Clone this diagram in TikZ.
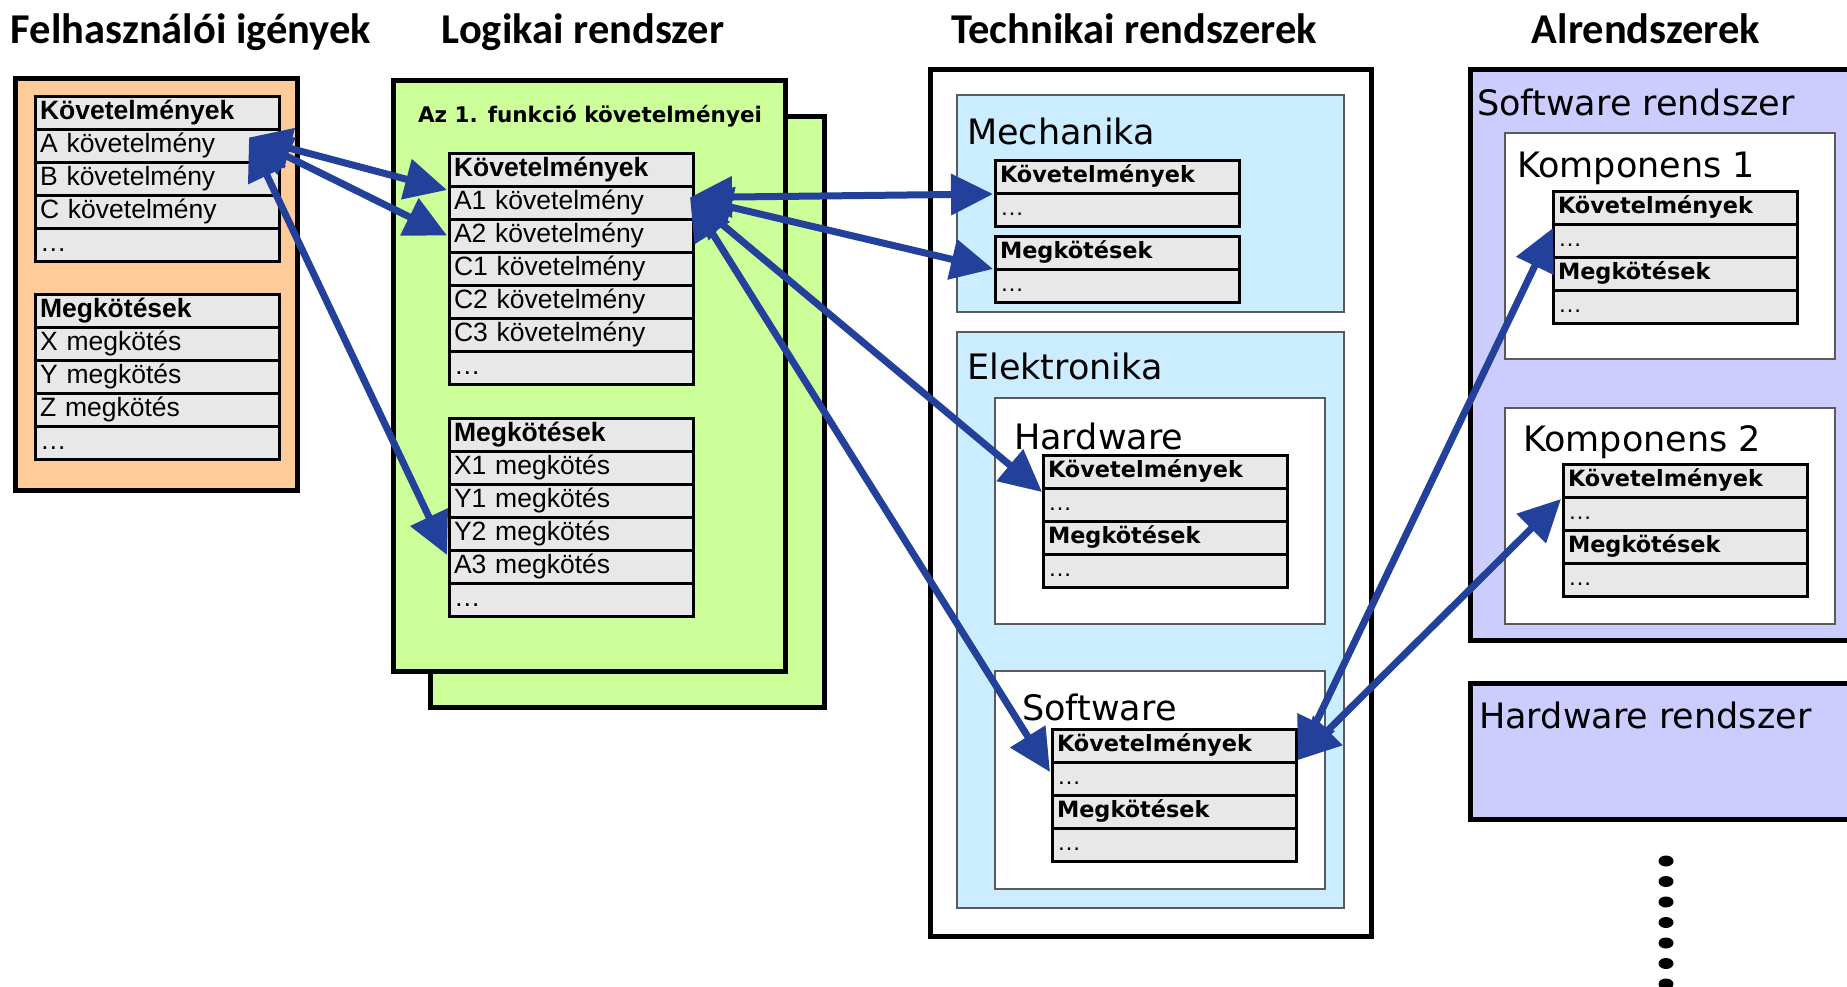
\documentclass[tikz,border=0pt]{standalone}
\usepackage{fontspec}
\usetikzlibrary{arrows.meta,positioning,calc}
\newfontfamily\calfont{Carlito}
\newfontfamily\libfont{Liberation Sans}
\newfontfamily\dvfont{DejaVu Sans}
\definecolor{orangefill}{RGB}{255,204,153}
\definecolor{greenfill}{RGB}{204,255,153}
\definecolor{bluefill}{RGB}{204,236,255}
\definecolor{lavfill}{RGB}{204,204,255}
\definecolor{cellgray}{RGB}{232,232,232}
\definecolor{arrowblue}{RGB}{35,64,154}
\definecolor{thingray}{RGB}{90,90,90}
\tikzset{
  cell/.style={draw=black, fill=cellgray, line width=3pt, minimum width=244pt,
    minimum height=33pt, text width=234pt, inner xsep=5pt, inner ysep=4pt,
    text height=19pt, text depth=6pt, align=left, outer sep=0pt,
    font=\libfont\fontsize{26.5}{28}\selectfont},
  hcell/.style={cell, font=\libfont\bfseries\fontsize{26.5}{28}\selectfont},
  tcell/.style={cell, text height=16pt, text depth=5pt,
    font=\libfont\fontsize{24}{26}\selectfont},
  thcell/.style={cell, text height=16pt, text depth=5pt,
    font=\dvfont\bfseries\fontsize{22.4}{24}\selectfont},
  title/.style={anchor=base, inner sep=0pt, font=\calfont\bfseries\fontsize{42.5}{46}\selectfont},
  region/.style={anchor=base west, inner sep=0pt, font=\dvfont\fontsize{35}{38}\selectfont},
  arr/.style={draw=arrowblue, line width=7pt,
    arrows={Triangle[length=42pt,width=40pt]-Triangle[length=42pt,width=40pt]}},
  thickbox/.style={draw=black, line width=5pt},
  thinbox/.style={draw=thingray, line width=1.5pt},
}
\begin{document}
\begin{tikzpicture}[x=1pt,y=-1pt]
\useasboundingbox (0,0) rectangle (1847,986);
\clip (0,0) rectangle (1847,986);
\fill[white] (0,0) rectangle (1847,986);

% ---- titles
\node[title] (t1) at (191,43) {Felhasználói igények};
\node[title] (t2) at (583,43) {Logikai rendszer};
\node[title] (t3) at (1134,43) {Technikai rendszerek};
\node[title] (t4) at (1646,43) {Alrendszerek};

% ---- user needs
\draw[thickbox, fill=orangefill] (15.5,78.5) rectangle (297.5,490.5);
\node[hcell, anchor=north west] (lK) at (35,96) {Követelmények};
\node[cell, below=0pt of lK] (lA) {A követelmény};
\node[cell, below=0pt of lA] (lB) {B követelmény};
\node[cell, below=0pt of lB] (lC) {C követelmény};
\node[cell, below=0pt of lC] (lD) {…};
\node[hcell, anchor=north west] (lM) at (35,294) {Megkötések};
\node[cell, below=0pt of lM] (lX) {X megkötés};
\node[cell, below=0pt of lX] (lY) {Y megkötés};
\node[cell, below=0pt of lY] (lZ) {Z megkötés};
\node[cell, below=0pt of lZ] (lE) {…};

% ---- logical system
\draw[thickbox, fill=greenfill] (430.5,116.5) rectangle (824.5,707.5);
\draw[thickbox, fill=greenfill] (393.5,80.5) rectangle (785.5,671.5);
\node[anchor=base, inner sep=0pt, font=\dvfont\bfseries\fontsize{21.5}{24}\selectfont] (fn) at (590,122) {Az 1. funkció követelményei};
\node[hcell, anchor=north west] (mK) at (449,153) {Követelmények};
\node[cell, below=0pt of mK] (mA1) {A1 követelmény};
\node[cell, below=0pt of mA1] (mA2) {A2 követelmény};
\node[cell, below=0pt of mA2] (mC1) {C1 követelmény};
\node[cell, below=0pt of mC1] (mC2) {C2 követelmény};
\node[cell, below=0pt of mC2] (mC3) {C3 követelmény};
\node[cell, below=0pt of mC3] (mD) {…};
\node[hcell, anchor=north west] (mM) at (449,418) {Megkötések};
\node[cell, below=0pt of mM] (mX1) {X1 megkötés};
\node[cell, below=0pt of mX1] (mY1) {Y1 megkötés};
\node[cell, below=0pt of mY1] (mY2) {Y2 megkötés};
\node[cell, below=0pt of mY2] (mA3) {A3 megkötés};
\node[cell, below=0pt of mA3] (mE) {…};

% ---- technical systems
\draw[thickbox, fill=white] (930.5,69.5) rectangle (1371.5,936.5);
\draw[thinbox, fill=bluefill] (957,95) rectangle (1344,312);
\node[region] (mech) at (967,144) {Mechanika};
\node[thcell, anchor=north west] (tMK) at (995,160) {Követelmények};
\node[tcell, below=0pt of tMK] (tMKd) {…};
\node[thcell, anchor=north west] (tMM) at (995,236) {Megkötések};
\node[tcell, below=0pt of tMM] (tMMd) {…};

\draw[thinbox, fill=bluefill] (957,332) rectangle (1344,908);
\node[region] (elek) at (967,379) {Elektronika};
\draw[thinbox, fill=white] (995,398) rectangle (1325,624);
\node[region] (hwl) at (1014,449) {Hardware};
\node[thcell, anchor=north west] (hwK) at (1043,455) {Követelmények};
\node[tcell, below=0pt of hwK] (hwKd) {…};
\node[thcell, below=0pt of hwKd] (hwM) {Megkötések};
\node[tcell, below=0pt of hwM] (hwMd) {…};
\draw[thinbox, fill=white] (995,671) rectangle (1325,889);
\node[region] (swl) at (1022,720) {Software};
\node[thcell, anchor=north west] (swK) at (1052,729) {Követelmények};
\node[tcell, below=0pt of swK] (swKd) {…};
\node[thcell, below=0pt of swKd] (swM) {Megkötések};
\node[tcell, below=0pt of swM] (swMd) {…};

% ---- subsystems
\draw[thickbox, fill=lavfill] (1470.5,69.5) rectangle (1870,640.5);
\node[region] (swr) at (1477,115) {Software rendszer};
\draw[thinbox, fill=white] (1505,133) rectangle (1835,359);
\node[region] (k1l) at (1517,177) {Komponens 1};
\node[thcell, anchor=north west] (k1K) at (1553,191) {Követelmények};
\node[tcell, below=0pt of k1K] (k1Kd) {…};
\node[thcell, below=0pt of k1Kd] (k1M) {Megkötések};
\node[tcell, below=0pt of k1M] (k1Md) {…};
\draw[thinbox, fill=white] (1505,408) rectangle (1835,624);
\node[region] (k2l) at (1523,451) {Komponens 2};
\node[thcell, anchor=north west] (k2K) at (1563,464) {Követelmények};
\node[tcell, below=0pt of k2K] (k2Kd) {…};
\node[thcell, below=0pt of k2Kd] (k2M) {Megkötések};
\node[tcell, below=0pt of k2M] (k2Md) {…};
\draw[thickbox, fill=lavfill] (1470.5,683.5) rectangle (1870,819.5);
\node[region] (hwr) at (1479,728) {Hardware rendszer};
\foreach \i in {0,...,6}{
  \fill[black] (1666,861+20.5*\i) ellipse [x radius=7.5pt, y radius=5.5pt];
}

% ---- connectors
\coordinate (pL) at ($(lA.east)+(-30,-8)$);
\coordinate (pM) at ($(mA1.east)+(-3,-5)$);
\coordinate (pS) at ($(swK.south east)+(2,-2)$);
\draw[arr] (pL) -- ($(mA1.north west)+(-2,4)$);
\draw[arr] (pL) -- ($(mA2.west)+(-2,0)$);
\draw[arr] (pL) -- ($(mA3.north west)+(-2,5)$);
\draw[arr] (pM) -- ($(tMK.south west)+(-2,1)$);
\draw[arr] (pM) -- ($(tMM.south west)+(-2,0)$);
\draw[arr] (pM) -- ($(hwK.south west)+(-1,4)$);
\draw[arr] (pM) -- ($(swK.south west)+(-2,10)$);
\draw[arr] (pS) -- ($(k1K.south west)+(0,4)$);
\draw[arr] (pS) -- ($(k2K.south west)+(-2,2)$);
\end{tikzpicture}
\end{document}
